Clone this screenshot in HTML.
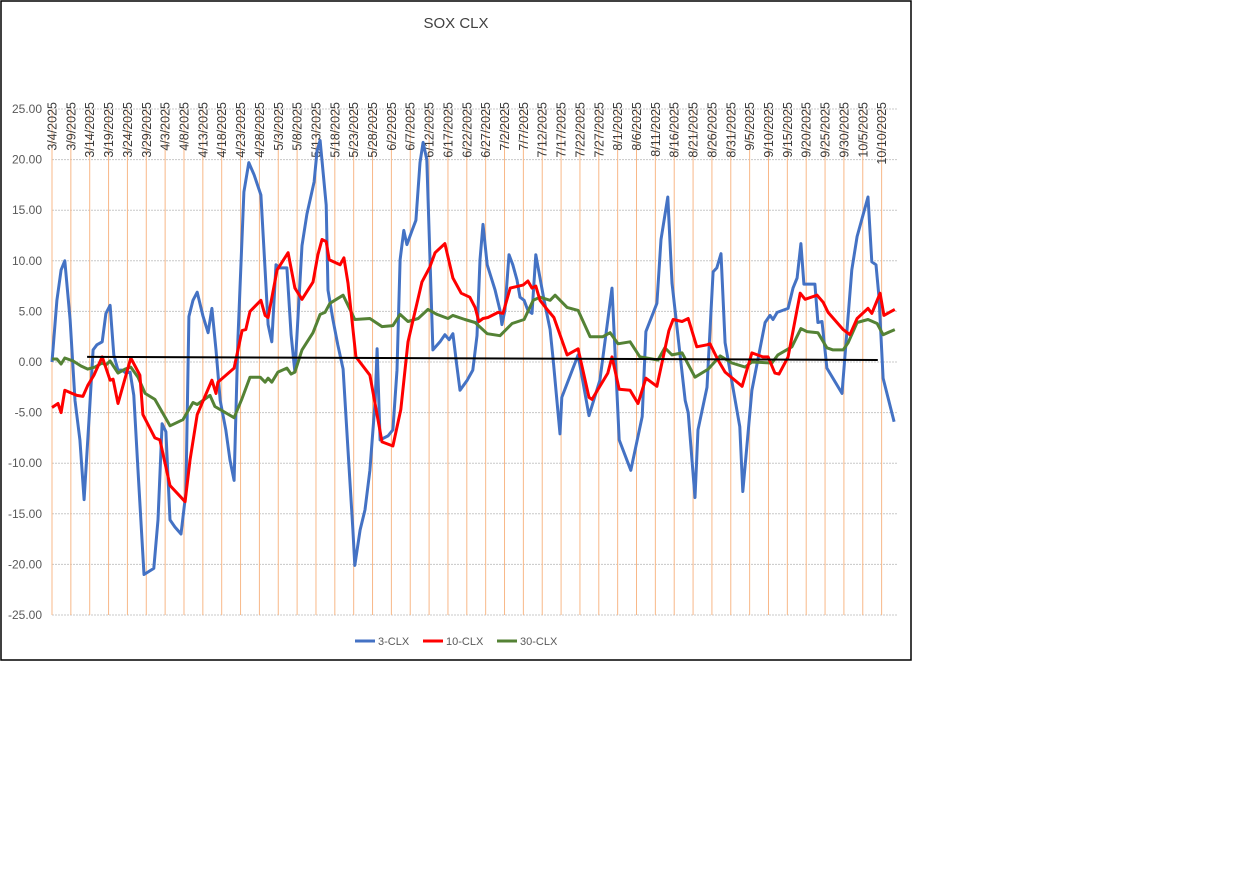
<!DOCTYPE html>
<html><head><meta charset="utf-8"><style>
body{margin:0;background:#fff;width:1238px;height:871px;overflow:hidden}
svg{position:absolute;left:0;top:0}
text{font-family:"Liberation Sans",sans-serif}
</style></head><body>
<svg id="chart" width="1238" height="871"></svg>
<script>
const tickStartDate = new Date(2025, 2, 4);
const tickCount = 45;
const yTicks = [25, 20, 15, 10, 5, 0, -5, -10, -15, -20, -25];
const blueDays = [0,1.3,2.4,3.4,4.8,6.1,7.4,8.5,9.8,10.9,11.9,13.3,14.3,15.4,16.4,17.5,18.6,19.6,20.7,21.7,22.8,24.4,27.0,28.1,29.2,30.2,31.3,32.6,34.2,35.5,36.3,37.4,38.5,40.0,41.4,42.4,43.5,44.6,46.1,47.2,48.3,49.3,50.9,52.2,53.6,55.4,56.5,57.3,58.3,59.4,60.5,62.3,63.4,64.4,66.3,67.6,69.5,70.3,71.1,72.7,73.2,74.5,75.8,77.2,78.5,79.8,80.3,81.7,83.0,84.3,85.7,86.2,87.0,89.1,90.4,91.5,92.3,93.3,94.1,95.5,96.5,97.6,98.4,99.4,101.0,102.9,104.2,105.3,106.3,107.4,108.2,110.1,111.6,112.7,113.5,114.3,115.4,117.5,118.8,119.3,120.1,121.2,122.2,123.3,124.1,125.2,126.2,127.3,128.3,129.4,130.5,132.1,132.9,133.9,134.7,135.2,139.5,142.4,145.3,148.5,150.4,153.5,156.5,157.5,160.4,161.5,163.3,164.4,167.9,168.7,170.5,171.3,173.7,175.3,176.3,177.4,178.5,182.4,183.2,185.6,189.1,190.4,191.2,192.3,195.2,196.5,197.6,198.6,199.4,202.3,203.1,204.2,205.5,209.5,212.1,213.5,216.4,217.4,218.5,219.3,220.4,223.3];
const blueVals = [0,6.1,9.1,10.0,4.2,-3.8,-7.7,-13.6,-5.7,1.2,1.7,2.0,4.8,5.6,0.7,-0.8,-0.8,-1.1,-1.0,-3.3,-10.7,-21.0,-20.4,-15.6,-6.1,-6.9,-15.6,-16.3,-17.0,-12.9,4.5,6.1,6.9,4.6,2.9,5.3,1.2,-3.8,-6.7,-9.7,-11.7,2.2,16.8,19.7,18.5,16.5,9.1,3.7,2.0,9.6,9.3,9.3,2.7,-1.0,11.5,14.6,17.8,20.9,21.9,15.5,7.1,4.2,1.7,-0.7,-8.7,-16.6,-20.1,-16.6,-14.6,-10.7,-3.8,1.3,-7.7,-7.3,-6.7,-0.8,10.1,13.0,11.6,13.0,14.0,19.7,21.7,20.0,1.2,2.0,2.7,2.2,2.8,-0.5,-2.8,-1.8,-0.8,2.6,10.1,13.6,9.6,7.1,5.1,3.7,5.1,10.6,9.6,8.1,6.4,6.1,5.1,4.8,10.6,8.3,6.1,3.2,0.2,-3.8,-7.1,-3.5,0.7,-5.3,-1.8,7.3,-7.7,-10.7,-5.4,3.0,5.8,12.1,16.3,7.8,-3.8,-5.0,-13.4,-6.7,-2.5,8.9,9.3,10.7,1.9,-6.4,-12.8,-2.8,3.9,4.6,4.2,4.9,5.3,7.3,8.3,11.7,7.7,7.7,3.9,4.0,-0.6,-3.1,9.1,12.4,16.3,9.9,9.6,6.4,-1.6,-5.9];
const redDays = [0,1.6,2.4,3.4,5.3,6.6,8.2,9.5,11.1,13.3,15.4,16.2,17.5,20.9,23.3,24.1,27.3,28.6,31.3,35.3,36.6,38.5,42.4,43.5,44.0,48.3,50.4,51.4,52.5,55.4,56.5,57.3,59.7,62.6,64.4,66.3,69.2,70.5,71.6,72.7,73.5,76.4,77.4,78.5,80.6,84.3,87.5,90.4,92.5,94.4,98.1,100.2,101.6,104.2,106.3,108.5,110.8,112.2,113.2,114.3,115.6,118.3,119.6,121.5,124.9,126.2,127.3,128.3,129.4,131.5,133.1,136.6,139.5,142.4,143.2,147.4,148.5,150.4,153.3,155.4,157.5,160.4,163.6,164.7,167.1,168.7,171.0,173.7,174.5,176.6,178.5,183.0,185.6,188.5,189.9,191.7,192.8,195.2,198.4,199.7,202.9,204.5,205.8,209.8,211.6,213.5,216.4,217.4,219.6,220.6,223.5];
const redVals = [-4.5,-4.1,-5.0,-2.8,-3.1,-3.3,-3.4,-2.3,-1.3,0.5,-1.8,-1.7,-4.1,0.4,-1.3,-5.2,-7.5,-7.7,-12.2,-13.8,-9.7,-5.2,-1.8,-3.1,-2.0,-0.6,3.1,3.2,5.0,6.1,4.6,4.4,9.1,10.8,7.3,6.2,7.9,10.6,12.1,11.9,10.1,9.6,10.3,7.8,0.5,-1.3,-7.9,-8.3,-4.7,2.0,7.9,9.4,10.8,11.7,8.3,6.8,6.4,5.4,4.0,4.3,4.4,4.9,4.8,7.3,7.6,8.0,7.3,7.5,6.1,5.1,4.4,0.7,1.3,-3.5,-3.7,-1.1,0.5,-2.7,-2.8,-4.1,-1.6,-2.4,3.1,4.2,4.0,4.3,1.5,1.7,1.8,0.2,-1.0,-2.4,0.9,0.5,0.5,-1.1,-1.2,0.5,6.8,6.2,6.6,5.9,4.9,3.2,2.7,4.3,5.3,4.8,6.8,4.6,5.2];
const greenDays = [0,1.3,2.4,3.4,5.6,7.7,9.5,11.4,13.3,14.3,15.4,17.5,19.4,20.9,22.8,24.7,27.3,31.3,34.7,37.4,38.5,41.9,43.2,48.3,50.4,52.5,55.2,56.5,57.3,58.3,59.9,62.3,63.4,64.4,66.3,69.2,71.1,72.4,73.7,77.2,78.5,80.3,84.3,87.5,90.4,92.3,94.4,97.1,99.7,102.1,105.0,106.3,109.5,112.2,115.4,118.8,122.0,125.2,127.6,129.4,132.1,133.4,136.6,139.5,142.7,146.1,148.0,150.1,153.3,155.9,160.7,162.5,164.4,167.1,170.5,174.0,177.2,180.3,183.8,185.6,190.9,192.5,196.2,198.6,200.2,203.1,205.5,207.1,209.8,211.1,213.5,216.4,218.8,220.4,223.5];
const greenVals = [0.3,0.3,-0.2,0.4,0.1,-0.4,-0.7,-0.5,-0.1,-0.3,0.1,-1.1,-0.7,-0.5,-1.5,-3.1,-3.7,-6.3,-5.7,-4.0,-4.2,-3.3,-4.4,-5.5,-3.6,-1.5,-1.5,-2.0,-1.6,-2.0,-1.0,-0.6,-1.2,-1.0,1.2,2.9,4.7,4.9,5.8,6.6,5.6,4.2,4.3,3.5,3.6,4.7,4.0,4.3,5.2,4.7,4.3,4.6,4.2,3.9,2.8,2.6,3.8,4.2,6.1,6.4,6.1,6.6,5.4,5.1,2.5,2.5,2.9,1.8,2.0,0.5,0.2,1.4,0.7,0.9,-1.5,-0.7,0.6,-0.1,-0.5,0.0,-0.1,0.7,1.5,3.3,3.0,2.9,1.4,1.2,1.2,1.9,3.9,4.2,3.8,2.7,3.2];
const trendDays = [9.3, 219];
const trendVals = [0.5, 0.2];

const NS = "http://www.w3.org/2000/svg";
const svg = document.getElementById('chart');
const X0 = 52, PXD = 3.771, YTOP = 109, YBOT = 615, VMAX = 25, VMIN = -25, XR = 897;
function xs(d){ return X0 + d * PXD; }
function ys(v){ return YTOP + (VMAX - v) / (VMAX - VMIN) * (YBOT - YTOP); }
function mk(tag, attrs){ const e = document.createElementNS(NS, tag); for (const k in attrs) e.setAttribute(k, attrs[k]); svg.appendChild(e); return e; }

const border = mk('rect', {x:1, y:1, width:910, height:659, fill:'#fff', stroke:'#000', 'stroke-width':1.5});



const title = mk('text', {x:456, y:28, 'text-anchor':'middle', 'font-size':15, fill:'#404040'});
title.textContent = 'SOX CLX';



yTicks.forEach(v => {
  const g = mk('line', {x1:X0, x2:XR, y1:ys(v), y2:ys(v), stroke:'#c8c8c8', 'stroke-width':1, 'stroke-dasharray':'2,1'});
  
  
  const t = mk('text', {x:42, y:ys(v) + 4, 'text-anchor':'end', 'font-size':12, fill:'#595959'});
  t.textContent = v.toFixed(2);
  
  
});

for (let k = 0; k < tickCount; k++) {
  const d = k * 5;
  const dt = new Date(tickStartDate.getTime()); dt.setDate(dt.getDate() + d);
  const lbl = (dt.getMonth() + 1) + '/' + dt.getDate() + '/' + dt.getFullYear();
  const x = xs(d);
  const gl = mk('line', {x1:x, x2:x, y1:YTOP, y2:YBOT, stroke:'#f8b888', 'stroke-width':1});
  
  
  const t = mk('text', {x:0, y:0, 'text-anchor':'end', 'font-size':12.5, fill:'#3a3a3a', transform:'translate(' + (x + 4.5) + ',102) rotate(-90)'});
  t.textContent = lbl;
  
  
}

function series(days, vals, color, name, w){
  const pts = days.map((d, i) => xs(d).toFixed(1) + ',' + ys(vals[i]).toFixed(1)).join(' ');
  const p = mk('polyline', {points:pts, fill:'none', stroke:color, 'stroke-width':w, 'stroke-linejoin':'round'});
  
  
}
series(blueDays, blueVals, '#4472c4', 'series-3-clx', 3);
series(greenDays, greenVals, '#548235', 'series-30-clx', 3);
series(redDays, redVals, '#ff0000', 'series-10-clx', 3);
series(trendDays, trendVals, '#000000', 'trend-line', 2);

const legend = [['3-CLX', '#4472c4', 355], ['10-CLX', '#ff0000', 423], ['30-CLX', '#548235', 497]];
legend.forEach(([n, c, x]) => {
  const l = mk('line', {x1:x, x2:x + 20, y1:641, y2:641, stroke:c, 'stroke-width':3});
  
  
  const t = mk('text', {x:x + 23, y:645, 'font-size':11, fill:'#595959'});
  t.textContent = n;
  
  
});
</script>
</body></html>
